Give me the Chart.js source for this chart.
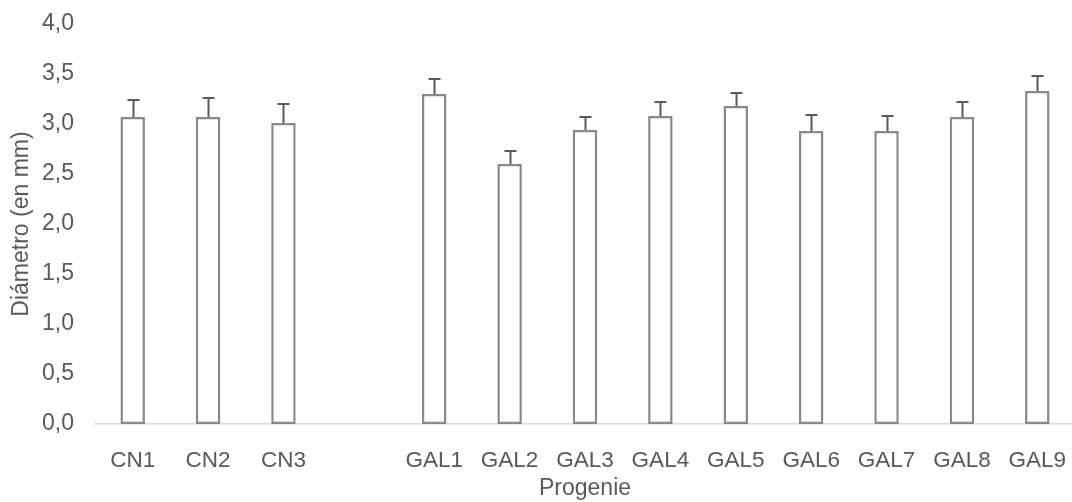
<!DOCTYPE html>
<html>
<head>
<meta charset="utf-8">
<script src="https://cdn.jsdelivr.net/npm/chart.js@4.4.1/dist/chart.umd.min.js"></script>
<style>
    html, body { margin: 0; padding: 0; background: #ffffff; overflow: hidden; }
    #progenie-chart { display: block; }
</style>
</head>
<body>
<canvas id="progenie-chart" width="1076" height="502"></canvas>
<script>
// Mean stem diameter per progeny (mm) and its standard error.
// The blank label keeps a gap between the CN and GAL groups.
var progenies = ['CN1', 'CN2', 'CN3', '', 'GAL1', 'GAL2', 'GAL3', 'GAL4', 'GAL5', 'GAL6', 'GAL7', 'GAL8', 'GAL9'];
var diameters = [3.07, 3.07, 3.01, null, 3.30, 2.60, 2.94, 3.08, 3.18, 2.93, 2.93, 3.07, 3.33];
var errors = [0.17, 0.19, 0.19, null, 0.15, 0.13, 0.13, 0.14, 0.13, 0.16, 0.15, 0.15, 0.15];
var yTicks = [0, 0.5, 1, 1.5, 2, 2.5, 3, 3.5, 4];

(function() {
    'use strict';

    var textColor = '#595959';
    var fontFamily = '"Liberation Sans", Arial, sans-serif';

    // Upper error whiskers drawn on top of each bar
    var errorBarPlugin = {
        id: 'errorBars',
        afterDatasetsDraw: function(chart) {
            var ctx = chart.ctx;
            var yScale = chart.scales.y;
            var meta = chart.getDatasetMeta(0);

            ctx.save();
            ctx.strokeStyle = '#595959';
            ctx.lineWidth = 2;
            meta.data.forEach(function(bar, i) {
                var value = diameters[i];
                var err = errors[i];
                if (value === null || err === null) {
                    return;
                }
                var x = Math.round(bar.x) + 0.5;
                var yTop = yScale.getPixelForValue(value + err);
                var yBase = yScale.getPixelForValue(value);
                ctx.beginPath();
                ctx.moveTo(x, yBase);
                ctx.lineTo(x, yTop);
                ctx.moveTo(x - 6, yTop);
                ctx.lineTo(x + 6, yTop);
                ctx.stroke();
            });
            ctx.restore();
        }
    };

    var canvas = document.getElementById('progenie-chart');
    var ctx = canvas.getContext('2d');

    new Chart(ctx, {
        type: 'bar',
        data: {
            labels: progenies,
            datasets: [{
                data: diameters,
                backgroundColor: '#ffffff',
                borderColor: '#898989',
                borderWidth: 2.5,
                borderSkipped: false,
                barPercentage: 1,
                categoryPercentage: 0.325
            }]
        },
        options: {
            responsive: false,
            animation: false,
            layout: {
                padding: { top: 24, right: 1, bottom: 0, left: 0 }
            },
            plugins: {
                legend: { display: false },
                tooltip: { enabled: false }
            },
            scales: {
                x: {
                    grid: { display: false },
                    border: {
                        display: true,
                        color: '#d9d9d9',
                        width: 1.5
                    },
                    ticks: {
                        color: textColor,
                        font: { family: fontFamily, size: 22.5 },
                        padding: 15,
                        maxRotation: 0,
                        autoSkip: false
                    },
                    title: {
                        display: true,
                        text: 'Progenie',
                        color: textColor,
                        font: { family: fontFamily, size: 23 },
                        padding: { top: 0, bottom: 0 }
                    },
                    afterFit: function(scale) {
                        scale.height = 78;
                        scale.paddingLeft = 0;
                        scale.paddingRight = 0;
                    }
                },
                y: {
                    min: 0,
                    max: 4,
                    grid: { display: false, drawTicks: false },
                    border: { display: false },
                    afterBuildTicks: function(scale) {
                        scale.ticks = yTicks.map(function(v) {
                            return { value: v };
                        });
                    },
                    ticks: {
                        color: textColor,
                        font: { family: fontFamily, size: 23 },
                        padding: 21,
                        callback: function(value) {
                            return Number(value).toFixed(1).replace('.', ',');
                        }
                    },
                    title: {
                        display: true,
                        text: 'Diámetro (en mm)',
                        color: textColor,
                        font: { family: fontFamily, size: 23 },
                        padding: { top: 8, bottom: 0 }
                    },
                    afterFit: function(scale) {
                        scale.width = 95;
                        scale.paddingTop = 0;
                        scale.paddingBottom = 0;
                    }
                }
            }
        },
        plugins: [errorBarPlugin]
    });
})();
</script>
</body>
</html>
